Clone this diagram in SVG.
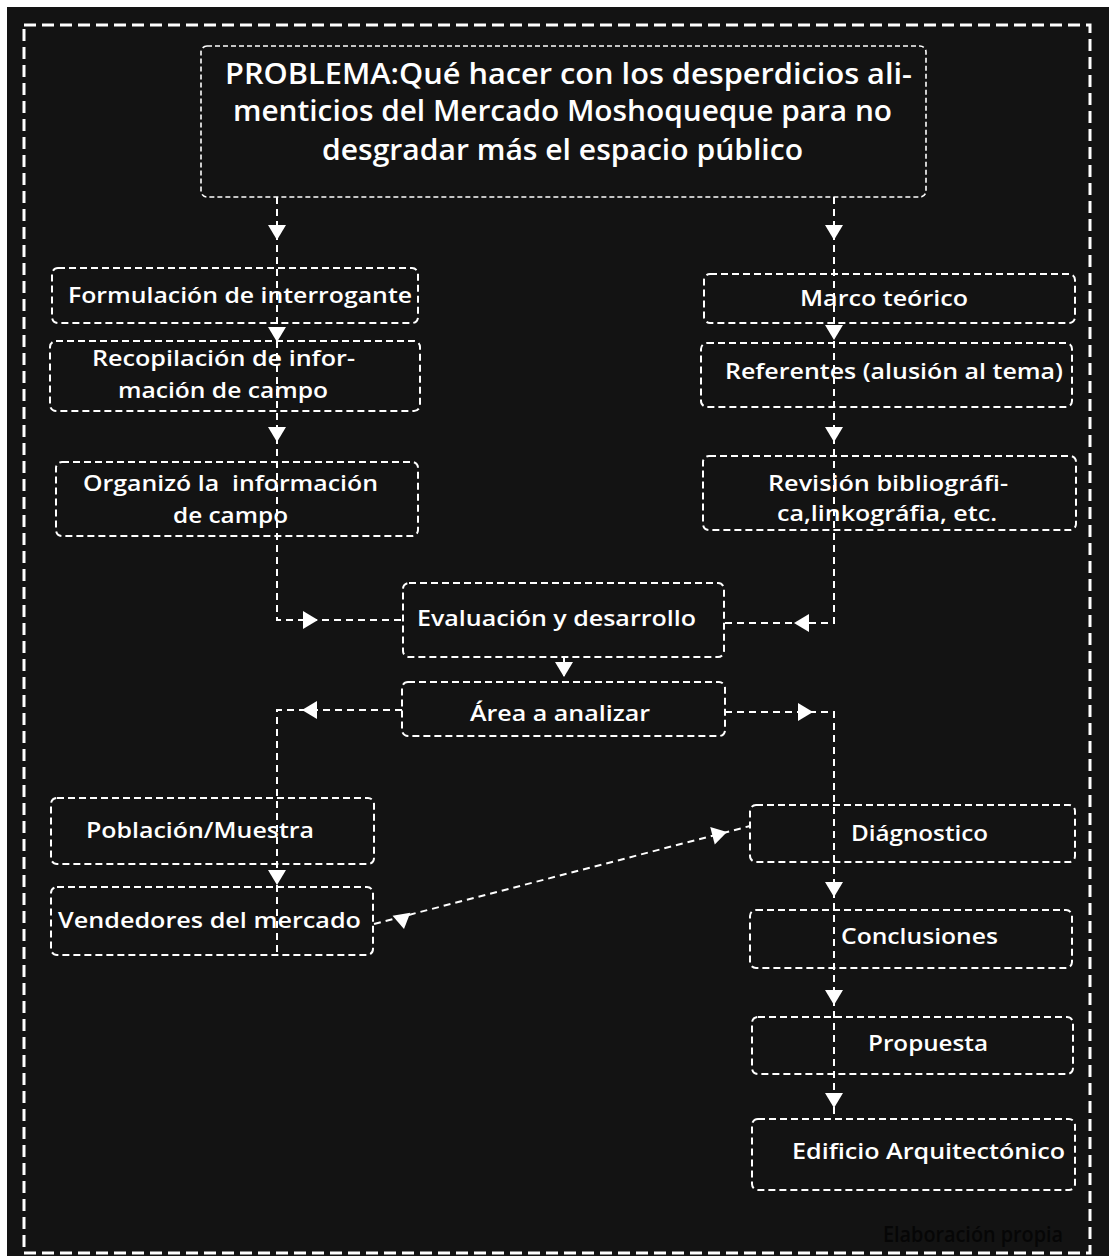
<svg xmlns="http://www.w3.org/2000/svg" width="1109" height="1256" viewBox="0 0 1109 1256">
<defs>
<style>
.bx{fill:none;stroke:#fff;stroke-width:2;stroke-dasharray:7 4}
.tb{fill:none;stroke:#fff;stroke-width:1.6;stroke-dasharray:5 3}
.cn{fill:none;stroke:#fff;stroke-width:2;stroke-dasharray:7 5}
.t{fill:#fff;font-family:"Open Sans","DejaVu Sans",sans-serif;font-weight:600;font-size:22px;white-space:pre}
.tt{fill:#fff;font-family:"Open Sans","DejaVu Sans",sans-serif;font-weight:600;font-size:28px}
.ah{fill:#fff}
</style>
<polygon id="tri" points="-9,-15 9,-15 0,0"/>
</defs>
<rect x="0" y="0" width="1109" height="1256" fill="#fff"/>
<rect x="7" y="7" width="1102" height="1249" fill="#131313"/>
<rect x="24" y="25" width="1066" height="1228" fill="none" stroke="#fff" stroke-width="3" stroke-dasharray="12 6"/>

<g id="connectors">
<path class="cn" d="M277,197 V620 H403"/>
<path class="cn" d="M834,197 V623 H723"/>
<path class="cn" d="M564,657 V682"/>
<path class="cn" d="M402,710 H277 V955"/>
<path class="cn" d="M725,712 H834 V1119"/>
<path class="cn" d="M374,924 L750,826"/>
<g class="ah">
<use href="#tri" x="277" y="240"/>
<use href="#tri" x="277" y="342"/>
<use href="#tri" x="277" y="442"/>
<use href="#tri" transform="translate(318,620) rotate(-90)"/>
<use href="#tri" x="834" y="240"/>
<use href="#tri" x="834" y="340"/>
<use href="#tri" x="834" y="442"/>
<use href="#tri" transform="translate(794,623) rotate(90)"/>
<use href="#tri" x="564" y="677"/>
<use href="#tri" transform="translate(302,710) rotate(90)"/>
<use href="#tri" transform="translate(813,712) rotate(-90)"/>
<use href="#tri" x="277" y="885"/>
<use href="#tri" x="834" y="897"/>
<use href="#tri" x="834" y="1005"/>
<use href="#tri" x="834" y="1108"/>
<use href="#tri" transform="translate(727,832) rotate(-104.6)"/>
<use href="#tri" transform="translate(404,929) rotate(-10)"/>
</g>
</g>

<g id="n-problema">
<rect class="tb" x="201" y="46" width="725" height="151" rx="6"/>
<text class="tt" x="225" y="84" textLength="687" lengthAdjust="spacingAndGlyphs">PROBLEMA:Qué hacer con los desperdicios ali-</text>
<text class="tt" x="233" y="121" textLength="659" lengthAdjust="spacingAndGlyphs">menticios del Mercado Moshoqueque para no</text>
<text class="tt" x="322" y="160" textLength="481" lengthAdjust="spacingAndGlyphs">desgradar más el espacio público</text>
</g>

<g id="n-formulacion">
<rect class="bx" x="52" y="268" width="366" height="55" rx="6"/>
<text class="t" x="68" y="303" textLength="344" lengthAdjust="spacingAndGlyphs">Formulación de interrogante</text>
</g>
<g id="n-recopilacion">
<rect class="bx" x="50" y="341" width="370" height="70" rx="6"/>
<text class="t" x="92" y="366" textLength="263" lengthAdjust="spacingAndGlyphs">Recopilación de infor-</text>
<text class="t" x="118" y="398" textLength="210" lengthAdjust="spacingAndGlyphs">mación de campo</text>
</g>
<g id="n-organizo">
<rect class="bx" x="56" y="462" width="362" height="74" rx="6"/>
<text class="t" x="83" y="491" textLength="295" lengthAdjust="spacingAndGlyphs">Organizó la  información</text>
<text class="t" x="173" y="523" textLength="115" lengthAdjust="spacingAndGlyphs">de campo</text>
</g>

<g id="n-marco">
<rect class="bx" x="704" y="274" width="371" height="49" rx="6"/>
<text class="t" x="800" y="306" textLength="168" lengthAdjust="spacingAndGlyphs">Marco teórico</text>
</g>
<g id="n-referentes">
<rect class="bx" x="701" y="343" width="371" height="64" rx="6"/>
<text class="t" x="725" y="379" textLength="338" lengthAdjust="spacingAndGlyphs">Referentes (alusión al tema)</text>
</g>
<g id="n-revision">
<rect class="bx" x="703" y="456" width="373" height="74" rx="6"/>
<text class="t" x="768" y="491" textLength="240" lengthAdjust="spacingAndGlyphs">Revisión bibliográfi-</text>
<text class="t" x="777" y="521" textLength="220" lengthAdjust="spacingAndGlyphs">ca,linkográfia, etc.</text>
</g>

<g id="n-evaluacion">
<rect class="bx" x="403" y="583" width="321" height="74" rx="6"/>
<text class="t" x="417" y="626" textLength="279" lengthAdjust="spacingAndGlyphs">Evaluación y desarrollo</text>
</g>
<g id="n-area">
<rect class="bx" x="402" y="682" width="323" height="54" rx="6"/>
<text class="t" x="470" y="721" textLength="180" lengthAdjust="spacingAndGlyphs">Área a analizar</text>
</g>

<g id="n-poblacion">
<rect class="bx" x="51" y="798" width="323" height="66" rx="6"/>
<text class="t" x="86" y="838" textLength="228" lengthAdjust="spacingAndGlyphs">Población/Muestra</text>
</g>
<g id="n-vendedores">
<rect class="bx" x="51" y="887" width="322" height="68" rx="6"/>
<text class="t" x="58" y="928" textLength="303" lengthAdjust="spacingAndGlyphs">Vendedores del mercado</text>
</g>

<g id="n-diagnostico">
<rect class="bx" x="750" y="805" width="325" height="57" rx="6"/>
<text class="t" x="851" y="841" textLength="137" lengthAdjust="spacingAndGlyphs">Diágnostico</text>
</g>
<g id="n-conclusiones">
<rect class="bx" x="750" y="910" width="322" height="58" rx="6"/>
<text class="t" x="841" y="944" textLength="157" lengthAdjust="spacingAndGlyphs">Conclusiones</text>
</g>
<g id="n-propuesta">
<rect class="bx" x="752" y="1017" width="321" height="57" rx="6"/>
<text class="t" x="868" y="1051" textLength="120" lengthAdjust="spacingAndGlyphs">Propuesta</text>
</g>
<g id="n-edificio">
<rect class="bx" x="752" y="1119" width="323" height="71" rx="6"/>
<text class="t" x="792" y="1159" textLength="273" lengthAdjust="spacingAndGlyphs">Edificio Arquitectónico</text>
</g>

<text x="883" y="1242" textLength="180" lengthAdjust="spacingAndGlyphs" fill="#060606" font-family="Open Sans, DejaVu Sans, sans-serif" font-weight="600" font-size="21">Elaboración propia</text>
</svg>
